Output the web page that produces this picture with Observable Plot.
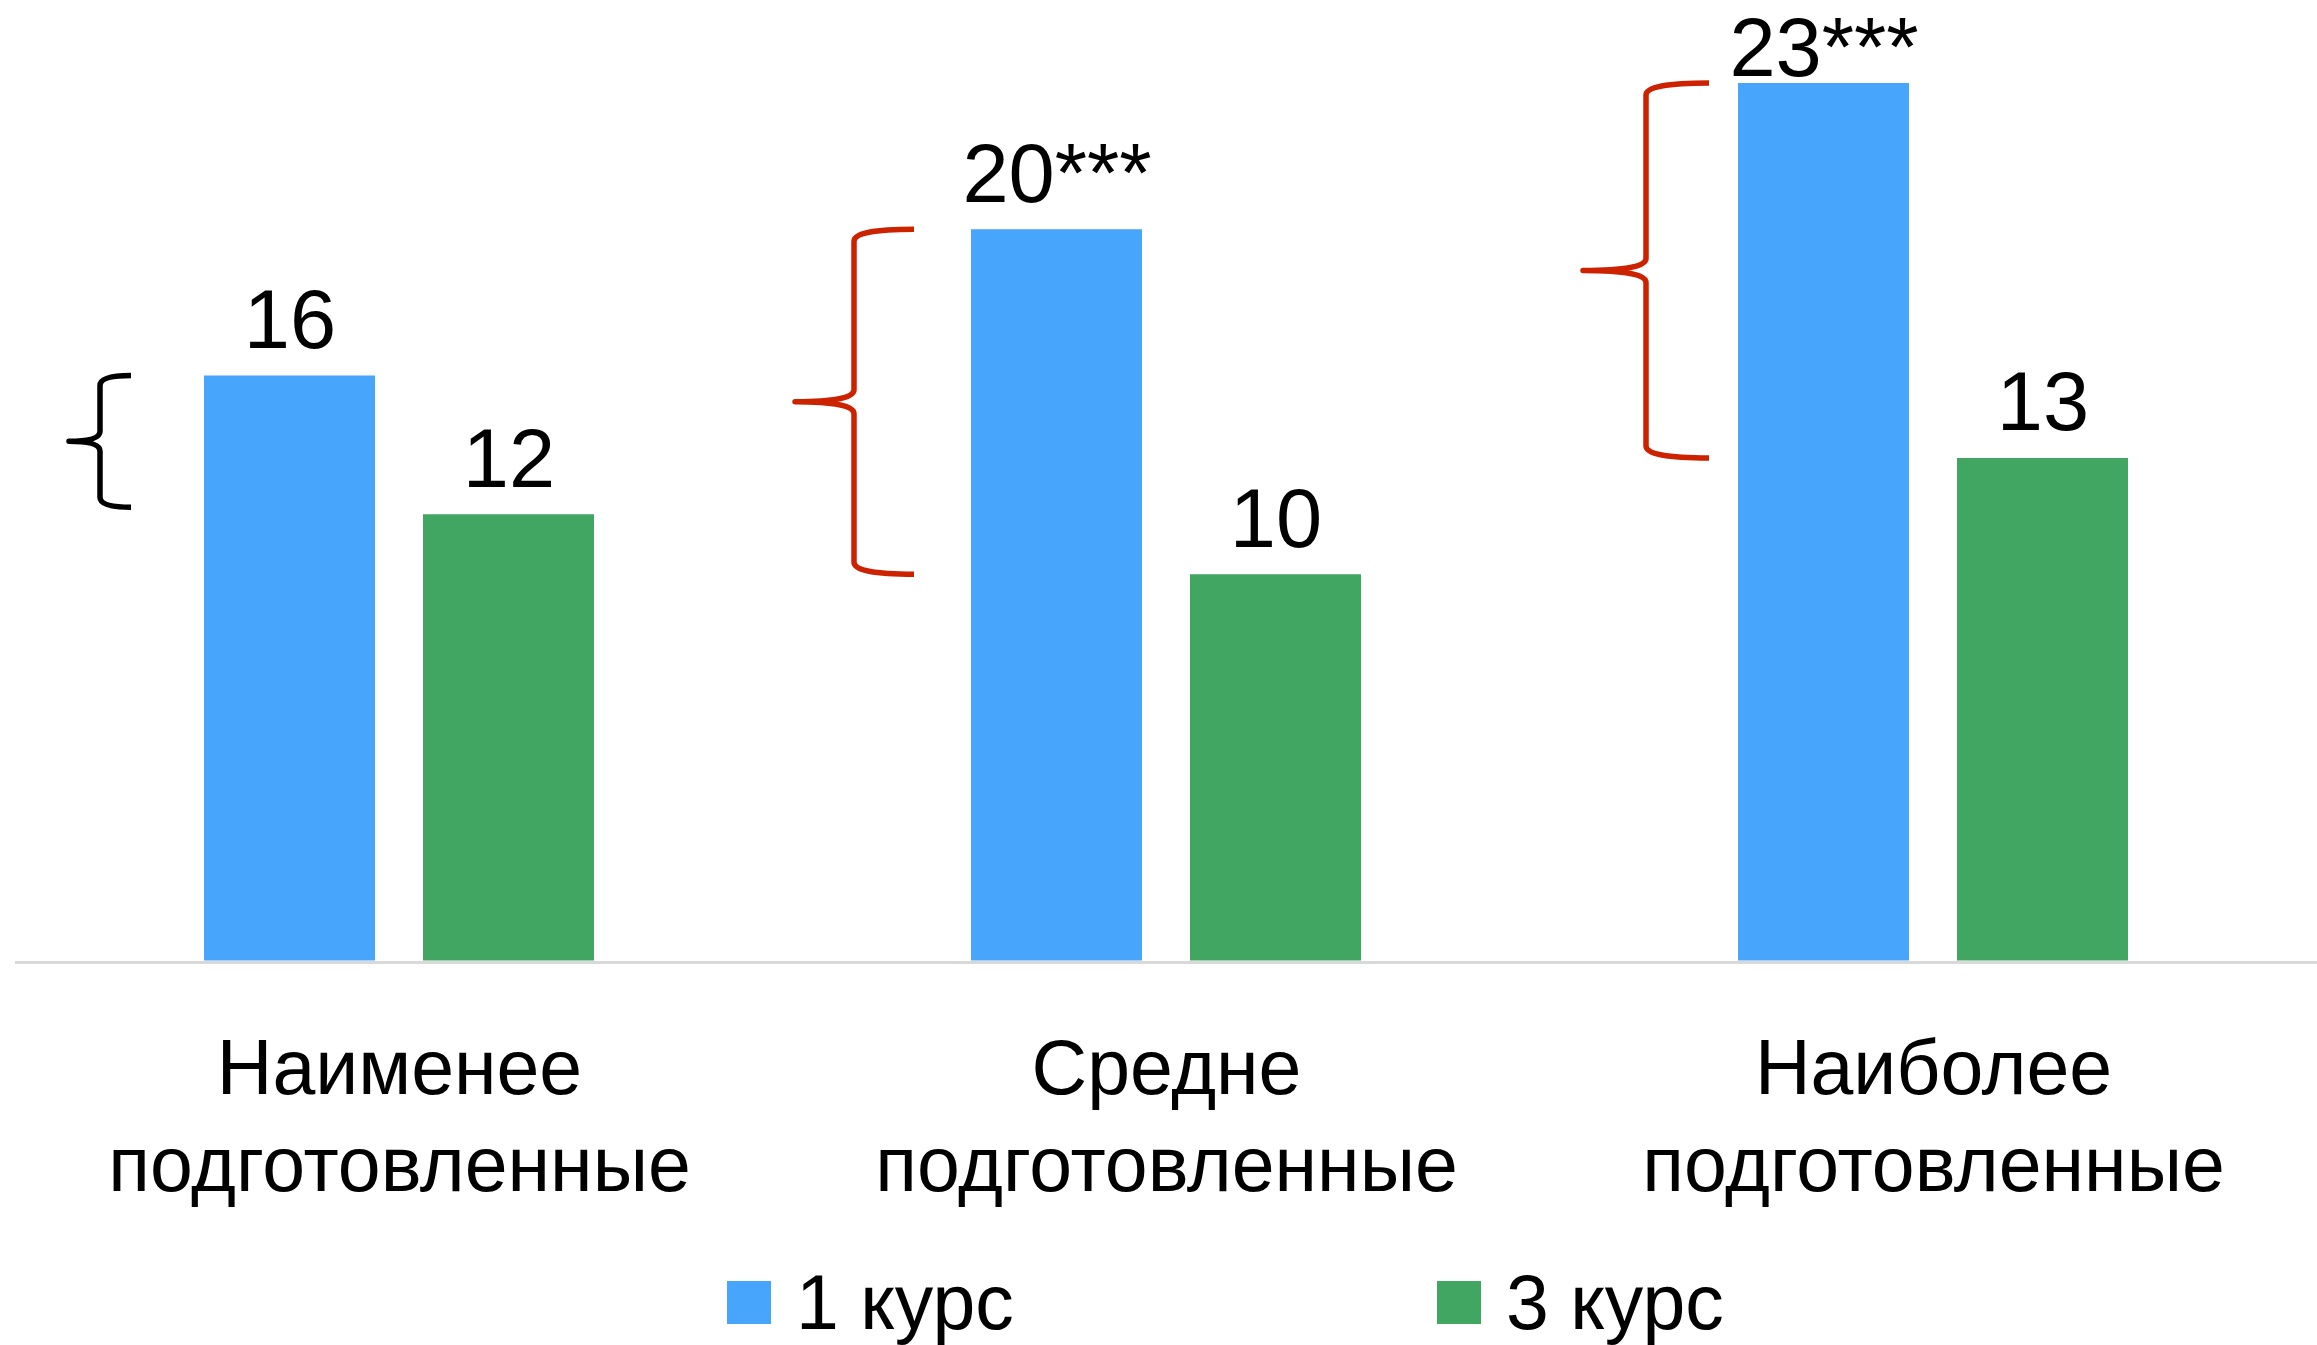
<!DOCTYPE html>
<html><head><meta charset="utf-8">
<script src="https://cdn.jsdelivr.net/npm/d3@7"></script>
<script src="https://cdn.jsdelivr.net/npm/@observablehq/plot@0.6"></script>
<style>
html,body{margin:0;padding:0;background:#fff;}
body{font-family:"Liberation Sans",Arial,sans-serif;width:2317px;}
#chart svg{display:block;}
#legend{display:flex;height:124px;align-items:center;padding-left:727px;}
.item{display:flex;align-items:center;width:710px;font-size:77px;color:#000;line-height:1;}
.sw{width:44px;height:43px;margin-right:25px;flex:none;}
</style></head><body><div id="chart"></div><div id="legend"></div>
<script>
// ---- data ----
const categories = ["Наименее\nподготовленные", "Средне\nподготовленные", "Наиболее\nподготовленные"];
const series = ["1 курс", "3 курс"];
const course1 = [15.6, 19.5, 23.4];
const course3 = [11.9, 10.3, 13.4];
const labels1 = ["16", "20***", "23***"];
const labels3 = ["12", "10", "13"];
const seriesColors = ["#47a5fc", "#42a663"];

// ---- style ----
const W = 2317, H = 1240, baseY = 960.5;
const barW = 171, barGap = 48;
const inset = barW + barGap, half = inset / 2;
const labelCeil = 22.84;
const braceStyle = [
  {color: "#000000", tip: -135, stem: -104, end: -73, r: 10, width: 5.5},
  {color: "#cc2200", tip: -176, stem: -117, end: -57, r: 12, width: 5.5},
  {color: "#cc2200", tip: -155, stem: -92, end: -29, r: 12, width: 5.5}
];

const rows1 = categories.map((c, i) => ({cat: c, series: series[0], value: course1[i], label: labels1[i]}));
const rows3 = categories.map((c, i) => ({cat: c, series: series[1], value: course3[i], label: labels3[i]}));

const chart = Plot.plot({
  width: W, height: H,
  marginLeft: 15, marginRight: 0, marginTop: 0, marginBottom: H - baseY,
  style: {fontFamily: '"Liberation Sans", Arial, sans-serif', color: "#000", background: "#fff"},
  x: {domain: categories, paddingInner: 0.49186, paddingOuter: 0.2456, label: null},
  y: {domain: [0, 25.613], axis: null},
  marks: [
    Plot.ruleY([0], {stroke: "#d9d9d9", strokeWidth: 3, dy: 1.5}),
    Plot.barY(rows1, {x: "cat", y: "value", fill: seriesColors[0], insetRight: inset}),
    Plot.barY(rows3, {x: "cat", y: "value", fill: seriesColors[1], insetLeft: inset}),
    Plot.text(rows1, {x: "cat", y: d => Math.min(d.value, labelCeil), text: "label", dx: -half, dy: -28, lineAnchor: "bottom", fontSize: 83, fill: "#000"}),
    Plot.text(rows3, {x: "cat", y: d => Math.min(d.value, labelCeil), text: "label", dx: half, dy: -28, lineAnchor: "bottom", fontSize: 83, fill: "#000"}),
    Plot.axisX({anchor: "bottom", label: null, tickSize: 0, tickPadding: 64, fontSize: 77, lineHeight: 1.26, fill: "#000"})
  ]
});
document.getElementById("chart").appendChild(chart);

// braces, placed through the plot's own scales
const xs = chart.scale("x"), ys = chart.scale("y");
const svg = d3.select(chart);
function bracePath(xt, xv, xe, y0, y1, r) {
  const ym = (y0 + y1) / 2;
  return `M${xe},${y0} Q${xv},${y0} ${xv},${y0 + r} L${xv},${ym - r} Q${xv},${ym} ${xt},${ym} Q${xv},${ym} ${xv},${ym + r} L${xv},${y1 - r} Q${xv},${y1} ${xe},${y1}`;
}
categories.forEach((c, i) => {
  const b = braceStyle[i];
  const x0 = xs.apply(c);
  const y0 = ys.apply(course1[i]), y1 = ys.apply(course3[i]) - (i === 0 ? 7 : 0);
  svg.append("path")
    .attr("d", bracePath(x0 + b.tip, x0 + b.stem, x0 + b.end, y0, y1, b.r))
    .attr("fill", "none").attr("stroke", b.color).attr("stroke-width", b.width)
    .attr("stroke-linecap", "butt").attr("stroke-linejoin", "round");
});

// legend
const legend = d3.select("#legend");
series.forEach((s, i) => {
  const it = legend.append("div").attr("class", "item");
  it.append("div").attr("class", "sw").style("background", seriesColors[i]);
  it.append("span").text(s);
});
</script></body></html>
